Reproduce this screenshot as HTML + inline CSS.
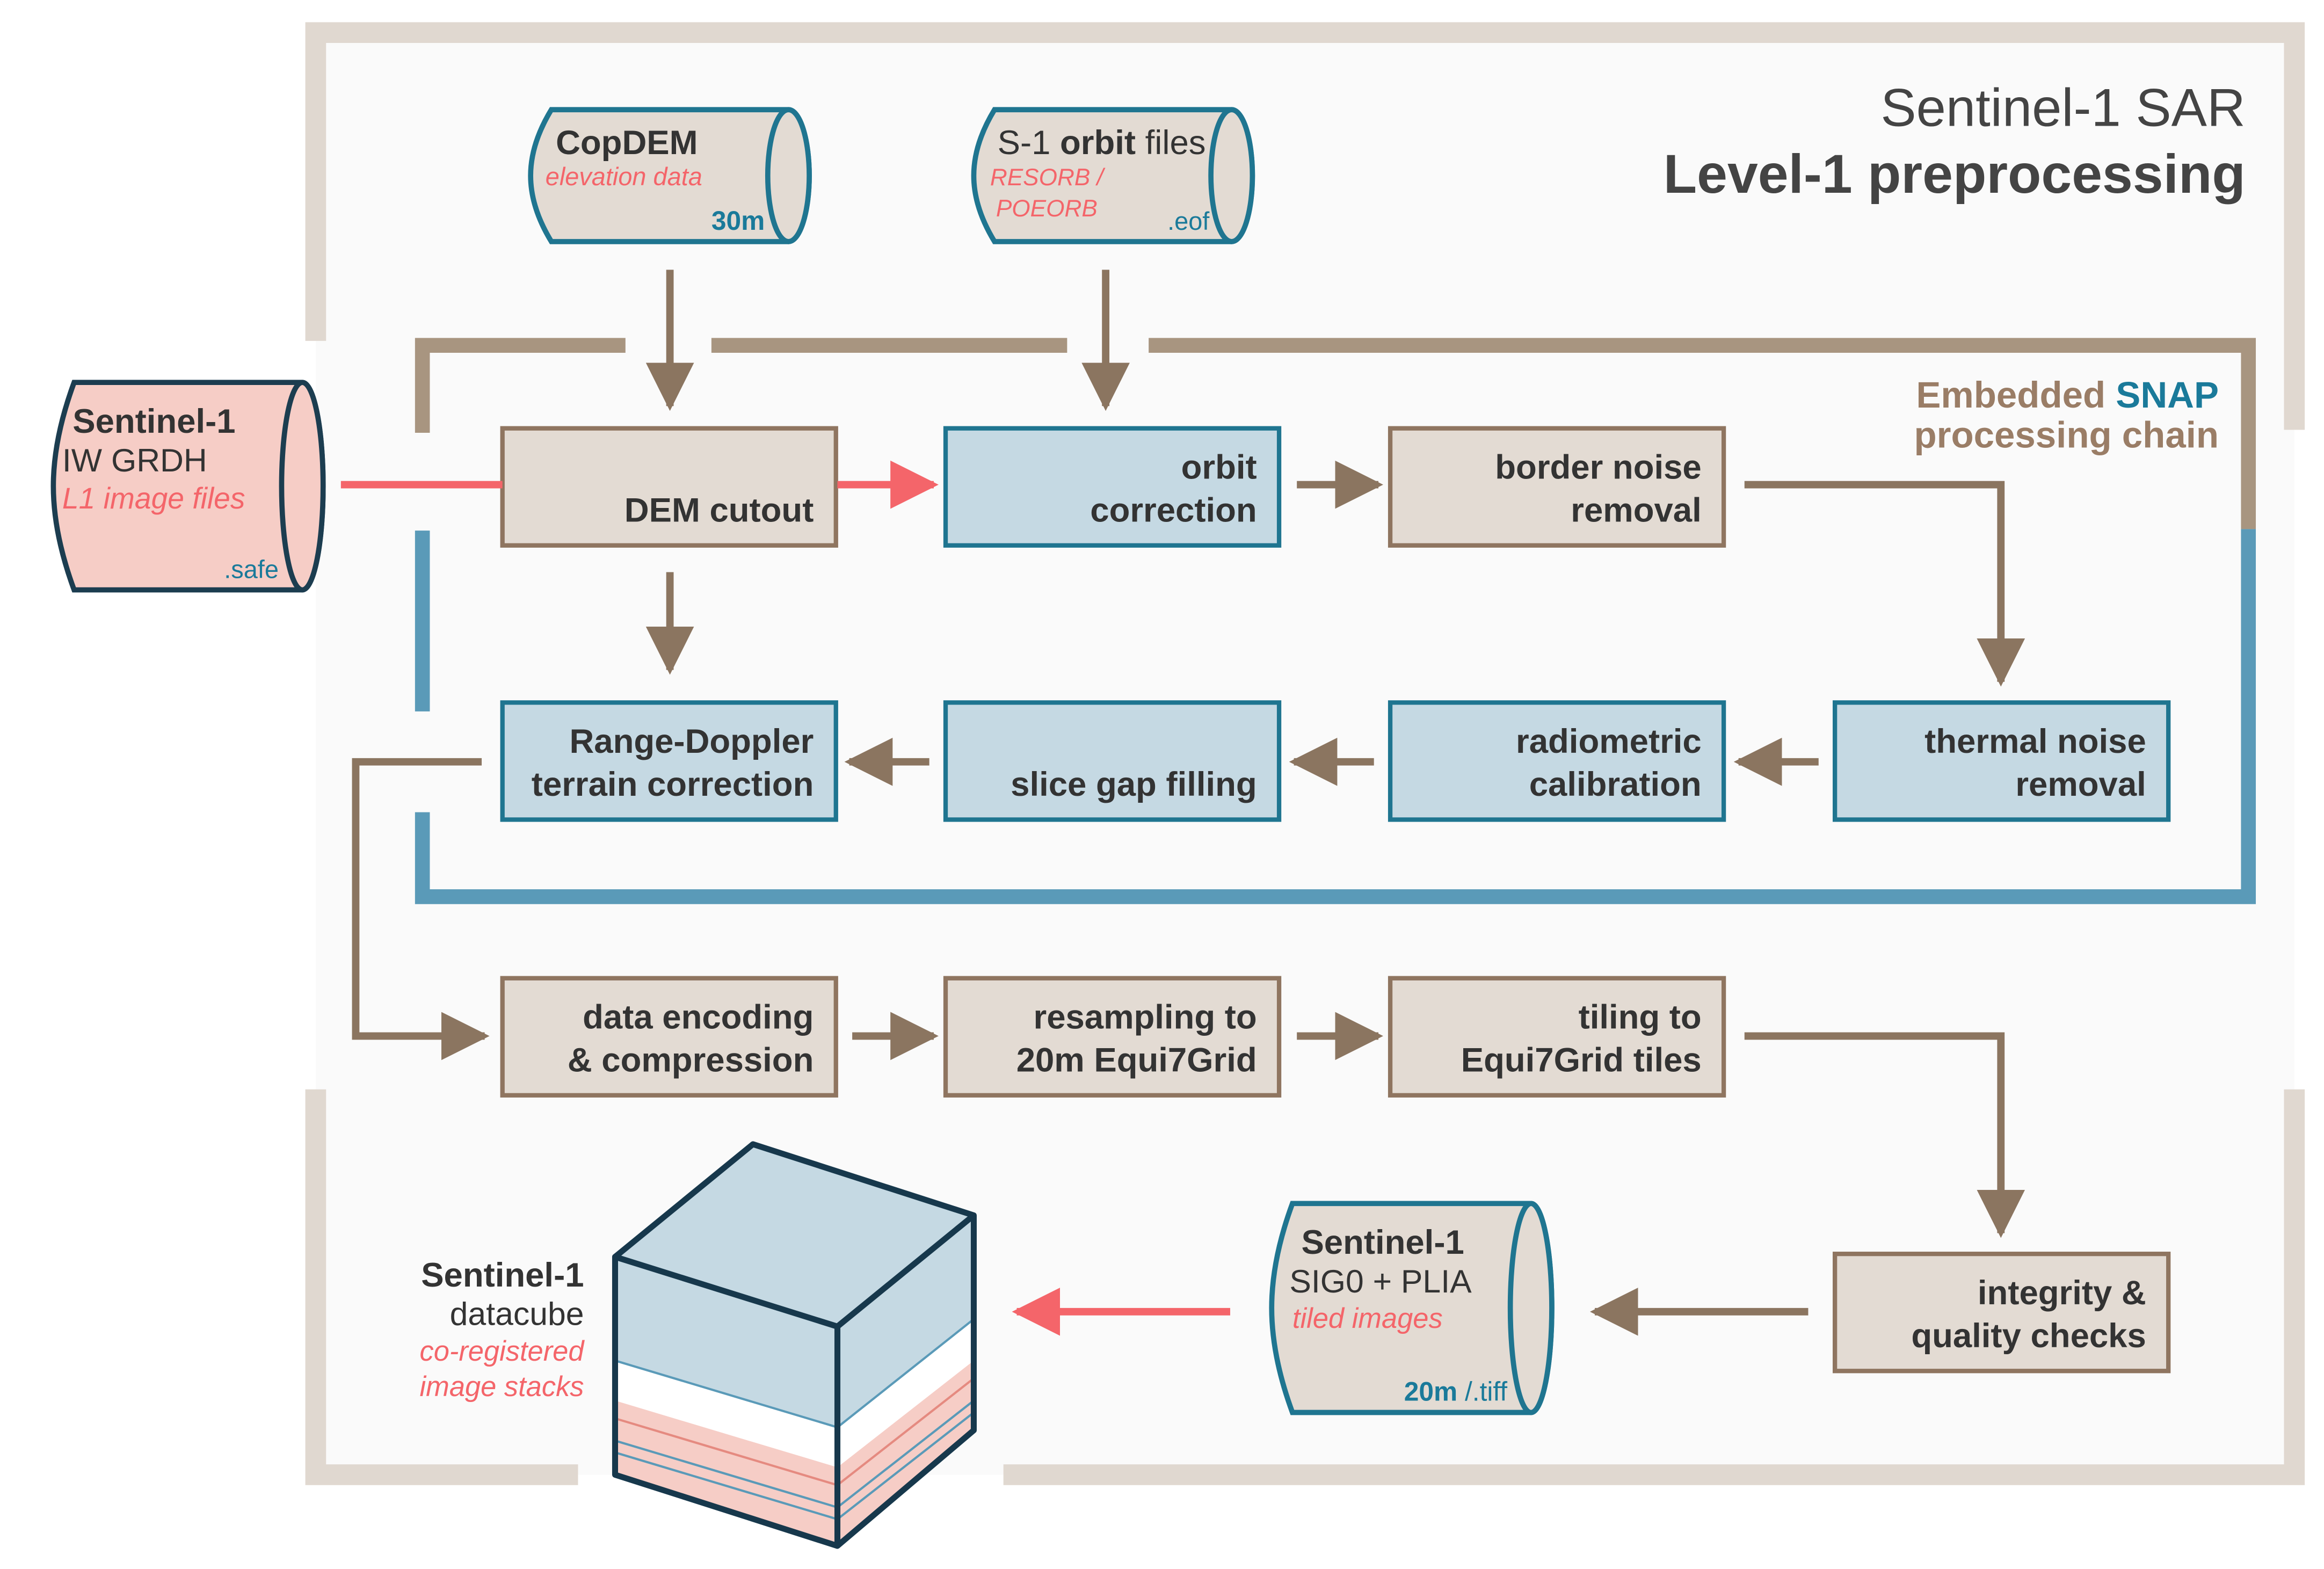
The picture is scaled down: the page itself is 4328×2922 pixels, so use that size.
<!DOCTYPE html>
<html><head><meta charset="utf-8"><style>
html,body{margin:0;padding:0;background:#fff}
svg{display:block}
text{font-family:"Liberation Sans","DejaVu Sans",sans-serif}
.bt{font-weight:bold;font-size:23px;fill:#333;text-anchor:end}
</style></head><body>
<svg width="4328" height="2922" viewBox="0 0 1568 1058.6" preserveAspectRatio="none" xmlns="http://www.w3.org/2000/svg">
<defs>
<marker id="ab" viewBox="0 0 10 10" refX="9" refY="5" markerWidth="6.5" markerHeight="6.5" orient="auto" markerUnits="strokeWidth"><path d="M0,0L10,5L0,10z" fill="#8b7560"/></marker>
<marker id="ar" viewBox="0 0 10 10" refX="9" refY="5" markerWidth="6.5" markerHeight="6.5" orient="auto" markerUnits="strokeWidth"><path d="M0,0L10,5L0,10z" fill="#f4656a"/></marker>
</defs>
<rect x="0" y="0" width="1568" height="1059" fill="#fff"/>
<rect x="213" y="22" width="1335" height="973" fill="#fafafa"/>
<g stroke="#e0d8d0" stroke-width="14" fill="none">
<polyline points="213,230 213,22 1548,22 1548,290"/>
<polyline points="213,735 213,995 390,995"/>
<polyline points="677,995 1548,995 1548,735"/>
</g>
<g stroke="#a89580" stroke-width="10" fill="none">
<polyline points="285,292 285,233 422,233"/>
<line x1="480" y1="233" x2="720" y2="233"/>
<polyline points="775,233 1517,233 1517,357"/>
</g>
<g stroke="#5a9ab8" stroke-width="10" fill="none">
<line x1="285" y1="358" x2="285" y2="480"/>
<polyline points="285,548 285,605 1517,605 1517,357"/>
</g>
<text x="1515" y="85" font-size="36" fill="#444" text-anchor="end">Sentinel-1 SAR</text>
<text x="1515" y="130" font-size="37" font-weight="bold" fill="#444" text-anchor="end">Level-1 preprocessing</text>
<text x="1497" y="275" font-size="25" font-weight="bold" fill="#9a7d66" text-anchor="end">Embedded <tspan fill="#1a7a9a">SNAP</tspan></text>
<text x="1497" y="302" font-size="25" font-weight="bold" fill="#9a7d66" text-anchor="end">processing chain</text>
<g stroke-width="3">
<rect x="339" y="289" width="225" height="79" fill="#e3dbd3" stroke="#8f7560"/>
<rect x="638" y="289" width="225" height="79" fill="#c5d9e3" stroke="#1f7590"/>
<rect x="938" y="289" width="225" height="79" fill="#e3dbd3" stroke="#8f7560"/>
<rect x="339" y="474" width="225" height="79" fill="#c5d9e3" stroke="#1f7590"/>
<rect x="638" y="474" width="225" height="79" fill="#c5d9e3" stroke="#1f7590"/>
<rect x="938" y="474" width="225" height="79" fill="#c5d9e3" stroke="#1f7590"/>
<rect x="1238" y="474" width="225" height="79" fill="#c5d9e3" stroke="#1f7590"/>
<rect x="339" y="660" width="225" height="79" fill="#e3dbd3" stroke="#8f7560"/>
<rect x="638" y="660" width="225" height="79" fill="#e3dbd3" stroke="#8f7560"/>
<rect x="938" y="660" width="225" height="79" fill="#e3dbd3" stroke="#8f7560"/>
<rect x="1238" y="846" width="225" height="79" fill="#e3dbd3" stroke="#8f7560"/>
</g>
<text class="bt" x="549" y="352">DEM cutout</text>
<text class="bt" x="848" y="323">orbit</text><text class="bt" x="848" y="352">correction</text>
<text class="bt" x="1148" y="323">border noise</text><text class="bt" x="1148" y="352">removal</text>
<text class="bt" x="549" y="508">Range-Doppler</text><text class="bt" x="549" y="537">terrain correction</text>
<text class="bt" x="848" y="537">slice gap filling</text>
<text class="bt" x="1148" y="508">radiometric</text><text class="bt" x="1148" y="537">calibration</text>
<text class="bt" x="1448" y="508">thermal noise</text><text class="bt" x="1448" y="537">removal</text>
<text class="bt" x="549" y="694">data encoding</text><text class="bt" x="549" y="723">&amp; compression</text>
<text class="bt" x="848" y="694">resampling to</text><text class="bt" x="848" y="723">20m Equi7Grid</text>
<text class="bt" x="1148" y="694">tiling to</text><text class="bt" x="1148" y="723">Equi7Grid tiles</text>
<text class="bt" x="1448" y="880">integrity &amp;</text><text class="bt" x="1448" y="909">quality checks</text>
<g stroke-width="3.5">
<path d="M372,74 H532 A14,44.5 0 0 1 532,163 H372 Q358,140 358,118.5 Q358,97 372,74Z" fill="#e3dbd3" stroke="#1f7590"/>
<ellipse cx="532" cy="118.5" rx="14" ry="44.5" fill="#e3dbd3" stroke="#1f7590"/>
<path d="M671,74 H831 A14,44.5 0 0 1 831,163 H671 Q657,140 657,118.5 Q657,97 671,74Z" fill="#e3dbd3" stroke="#1f7590"/>
<ellipse cx="831" cy="118.5" rx="14" ry="44.5" fill="#e3dbd3" stroke="#1f7590"/>
<path d="M50,258 H204 A14,70 0 0 1 204,398 H50 Q36,360 36,328 Q36,296 50,258Z" fill="#f6cdc6" stroke="#1c3d50"/>
<ellipse cx="204" cy="328" rx="14" ry="70" fill="#f6cdc6" stroke="#1c3d50"/>
<path d="M872,812 H1033 A14,70.5 0 0 1 1033,953 H872 Q858,915 858,882.5 Q858,850 872,812Z" fill="#e3dbd3" stroke="#1f7590"/>
<ellipse cx="1033" cy="882.5" rx="14" ry="70.5" fill="#e3dbd3" stroke="#1f7590"/>
</g>
<text x="375" y="104" font-size="23" font-weight="bold" fill="#333">CopDEM</text>
<text x="368" y="125" font-size="17" font-style="italic" fill="#f4656a">elevation data</text>
<text x="516" y="155" font-size="18" font-weight="bold" fill="#1a7a9a" text-anchor="end">30m</text>
<text x="673" y="104" font-size="23" fill="#333">S-1 <tspan font-weight="bold">orbit</tspan> files</text>
<text x="668" y="125" font-size="16" font-style="italic" fill="#f4656a">RESORB /</text>
<text x="672" y="146" font-size="16" font-style="italic" fill="#f4656a">POEORB</text>
<text x="816" y="155" font-size="17" fill="#1a7a9a" text-anchor="end">.eof</text>
<text x="49" y="292" font-size="23" font-weight="bold" fill="#333">Sentinel-1</text>
<text x="42" y="318" font-size="22" fill="#333">IW GRDH</text>
<text x="42" y="343" font-size="20" font-style="italic" fill="#f4656a">L1 image files</text>
<text x="188" y="390" font-size="17" fill="#1a7a9a" text-anchor="end">.safe</text>
<text x="878" y="846" font-size="23" font-weight="bold" fill="#333">Sentinel-1</text>
<text x="870" y="872" font-size="22" fill="#333">SIG0 + PLIA</text>
<text x="872" y="896" font-size="19" font-style="italic" fill="#f4656a">tiled images</text>
<text x="1017" y="945" font-size="18" fill="#1a7a9a" text-anchor="end"><tspan font-weight="bold">20m</tspan> /.tiff</text>
<g stroke="#8b7560" stroke-width="5" fill="none" marker-end="url(#ab)">
<line x1="452" y1="182" x2="452" y2="274"/>
<line x1="746" y1="182" x2="746" y2="274"/>
<line x1="452" y1="386" x2="452" y2="452"/>
<line x1="875" y1="327" x2="930" y2="327"/>
<polyline points="1177,327 1350,327 1350,460"/>
<line x1="627" y1="514" x2="573" y2="514"/>
<line x1="927" y1="514" x2="873" y2="514"/>
<line x1="1227" y1="514" x2="1173" y2="514"/>
<polyline points="325,514 240,514 240,699 327,699"/>
<line x1="575" y1="699" x2="630" y2="699"/>
<line x1="875" y1="699" x2="930" y2="699"/>
<polyline points="1177,699 1350,699 1350,832"/>
<line x1="1220" y1="885" x2="1076" y2="885"/>
</g>
<g stroke="#f4656a" stroke-width="5" fill="none">
<line x1="230" y1="327" x2="339" y2="327"/>
<line x1="565" y1="327" x2="630" y2="327" marker-end="url(#ar)"/>
<line x1="830" y1="885" x2="686" y2="885" marker-end="url(#ar)"/>
</g>
<g stroke-linejoin="round">
<polygon points="415,848 415,995 565,1043 565,895" fill="#f6cdc6"/>
<polygon points="415,848 415,918 565,963 565,895" fill="#c5d9e3"/>
<polygon points="415,918 415,945 565,990 565,963" fill="#fff"/>
<polygon points="565,895 657,820 657,965 565,1043" fill="#f6cdc6"/>
<polygon points="565,895 657,820 657,890 565,963" fill="#c5d9e3"/>
<polygon points="565,963 657,890 657,918 565,990" fill="#fff"/>
<polygon points="415,848 508,772 657,820 565,895" fill="#c5d9e3"/>
<g stroke-width="1.5" fill="none">
<line x1="415" y1="918" x2="565" y2="963" stroke="#5a9ab8"/>
<line x1="657" y1="890" x2="565" y2="963" stroke="#5a9ab8"/>
<line x1="415" y1="957" x2="565" y2="1002" stroke="#e58a80"/>
<line x1="415" y1="972" x2="565" y2="1017" stroke="#5a9ab8"/>
<line x1="415" y1="980" x2="565" y2="1025" stroke="#5a9ab8"/>
<line x1="657" y1="930" x2="565" y2="1002" stroke="#e58a80"/>
<line x1="657" y1="945" x2="565" y2="1017" stroke="#5a9ab8"/>
<line x1="657" y1="953" x2="565" y2="1025" stroke="#5a9ab8"/>
</g>
<g stroke="#17384c" stroke-width="4" fill="none">
<polygon points="415,848 508,772 657,820 657,965 565,1043 415,995"/>
<polyline points="415,848 565,895 657,820"/>
<line x1="565" y1="895" x2="565" y2="1043"/>
</g>
</g>
<text x="394" y="868" font-size="23" font-weight="bold" fill="#333" text-anchor="end">Sentinel-1</text>
<text x="394" y="894" font-size="22" fill="#333" text-anchor="end">datacube</text>
<text x="394" y="918" font-size="19" font-style="italic" fill="#f4656a" text-anchor="end">co-registered</text>
<text x="394" y="942" font-size="19" font-style="italic" fill="#f4656a" text-anchor="end">image stacks</text>
</svg>
</body></html>
